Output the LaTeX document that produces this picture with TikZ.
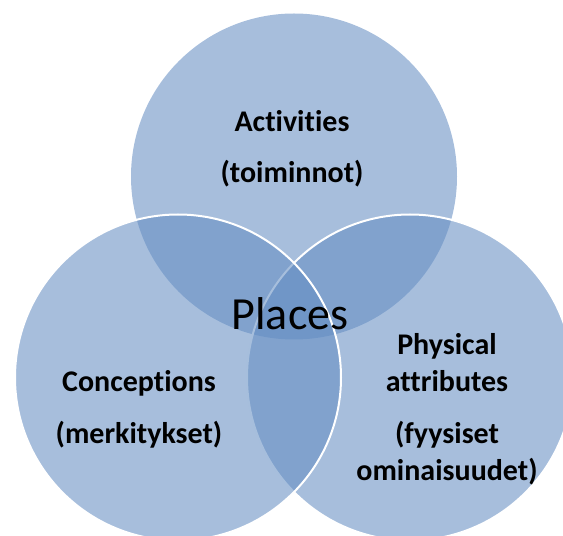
\documentclass[tikz,border=0pt]{standalone}
\usepackage{fontspec}
\setmainfont[Ligatures=NoCommon]{Carlito}
\usepackage{xcolor}
\definecolor{vennblue}{RGB}{100,141,194}

\begin{document}
\begin{tikzpicture}[x=1pt, y=1pt,
    venn/.style={circle, inner sep=0pt, minimum size=326pt, fill=vennblue, fill opacity=0.57, draw=white, line width=2pt},
    lbl/.style={align=center, font=\bfseries\fontsize{30}{37.5}\selectfont}]
    \useasboundingbox (0,0) rectangle (563,536);
    \clip (0,0) rectangle (563,536);
    \node[venn, draw=none] (act) at (294,359.5) {};
    \node[venn] (phy) at (410,158.5) {};
    \node[venn] (con) at (178,158.5) {};
    \node[lbl] (actlbl) at (292,387.5) {Activities\\[14pt](toiminnot)};
    \node[lbl] (conlbl) at (139,126.5) {Conceptions\\[14pt](merkitykset)};
    \node[lbl] (phylbl) at (447,127) {Physical\\attributes\\[14pt](fyysiset\\ominaisuudet)};
    \node[font=\fontsize{46}{55}\selectfont] (places) at (290,222) {Places};
\end{tikzpicture}
\end{document}
